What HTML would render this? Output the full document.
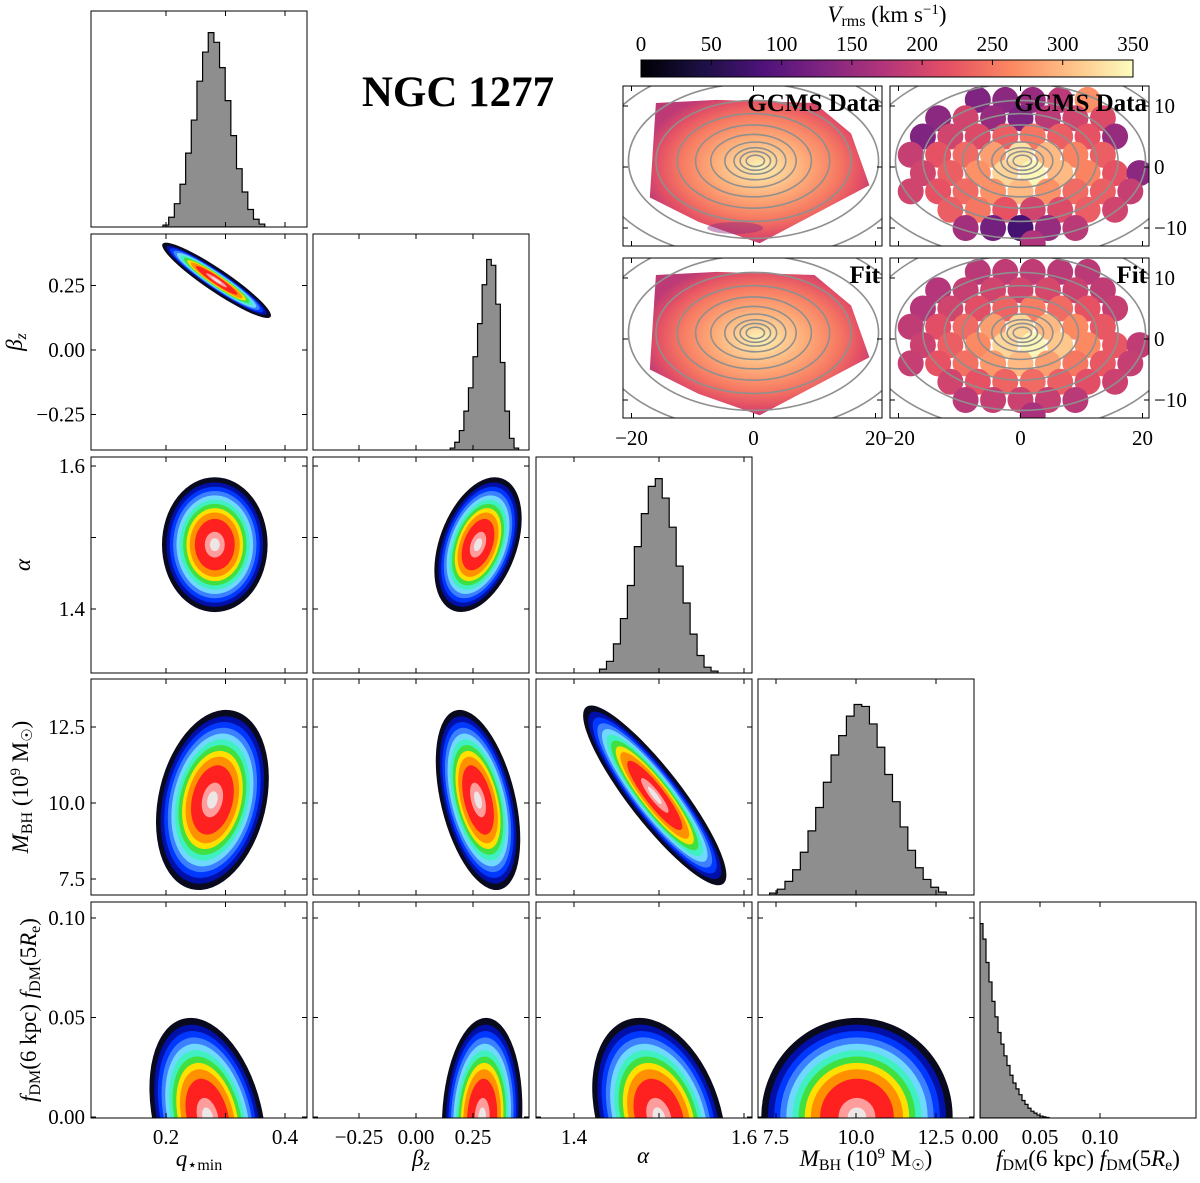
<!DOCTYPE html>
<html><head><meta charset="utf-8">
<style>
html,body{margin:0;padding:0;background:#fff;}
svg{display:block;font-family:"Liberation Serif",serif;}
text{font-family:"Liberation Serif",serif;}
</style></head>
<body>
<svg id="fig" width="1200" height="1183" viewBox="0 0 1200 1183" xmlns="http://www.w3.org/2000/svg">
<defs id="defs"></defs>
<g id="root"></g>
</svg>
<script>
// ---------- DATA ----------
const histQ = [0.01,0.05,0.12,0.22,0.38,0.55,0.75,0.9,1.0,0.95,0.82,0.65,0.47,0.3,0.18,0.09,0.04,0.015];
const histQStart = 0.195, histQStep = 0.0095;
const histB = [0.01,0.04,0.1,0.2,0.32,0.48,0.65,0.85,0.98,0.95,0.75,0.45,0.2,0.06,0.01];
const histBStart = 0.15, histBStep = 0.02;
const histA = [0.02,0.06,0.15,0.28,0.45,0.65,0.82,0.96,1.0,0.9,0.75,0.55,0.36,0.2,0.09,0.03,0.01];
const histAStart = 1.43, histAStep = 0.0082;
const histM = [0.01,0.03,0.07,0.13,0.22,0.33,0.45,0.58,0.72,0.82,0.92,0.98,0.97,0.88,0.76,0.62,0.48,0.35,0.23,0.14,0.08,0.04,0.015];
const histMStart = 7.3, histMStep = 0.24;
const histF = [1.0,0.92,0.8,0.7,0.6,0.52,0.44,0.38,0.32,0.27,0.22,0.18,0.15,0.12,0.09,0.07,0.05,0.035,0.025,0.015,0.01,0.006,0.003];
const histFStart = 0, histFStep = 0.0025;

// scatter clouds
const cloudVarX = ['q','q','b','q','b','a','q','b','a','m'];
const cloudVarY = ['b','a','a','m','m','m','f','f','f','f'];
const cloudMeanX = [0.285,0.282,0.272,0.278,0.272,1.495,0.27,0.29,1.5,10.03];
const cloudMeanY = [0.27,1.49,1.49,10.1,10.1,10.25,0,0,0,0];
const cloudSdX = [0.029,0.028,0.06,0.03,0.058,0.027,0.031,0.055,0.025,0.96];
const cloudSdY = [0.046,0.03,0.03,0.95,0.95,0.95,0.016,0.016,0.016,0.016];
const cloudRho = [-0.95,0.0,0.4,0.25,-0.45,-0.9,-0.3,0.1,-0.3,0.0];

const levelSigma = [3.05,2.9,2.7,2.5,2.3,2.1,1.9,1.7,1.5,1.2,0.6];
const levelColor = ['#0a0a1e','#0010a8','#0038ff','#3c80ff','#70d8ff','#40f0c0','#40e040','#ffe000','#ff9000','#ff2020','#ff9c9c'];
const coreColor = '#ece6e6';

const cbTicks = [0,50,100,150,200,250,300,350];

// Vrms bin maps
const binRowY = [11,8,5,2,-1,-4,-7,-10,-12.5];
const evenX = [-16,-11.5,-7,-2.5,2,6.5,11,15.5,19.5];
const oddX = [-18,-13.5,-9,-4.5,0,4.5,9,13.5,18];
const binValData = [
 [null,null,130,140,150,180,270,null,null],
 [null,140,200,150,130,180,200,210,null],
 [130,200,210,230,250,230,220,150,null],
 [190,220,240,280,330,300,260,230,null],
 [200,230,270,320,345,300,260,220,140],
 [200,220,240,270,300,270,240,230,190],
 [null,230,250,220,200,210,230,200,null],
 [null,null,160,120,80,150,180,null,null],
 [null,null,null,null,170,null,null,null,null]];
const binValFit = [
 [null,null,180,185,185,180,180,null,null],
 [null,175,190,200,200,205,195,185,null],
 [175,200,215,235,255,240,220,190,null],
 [185,215,240,280,320,300,265,225,null],
 [195,230,265,320,345,310,265,225,185],
 [190,220,245,275,300,280,250,225,190],
 [null,200,220,235,240,230,215,195,null],
 [null,null,180,190,195,190,180,null,null],
 [null,null,null,null,165,null,null,null,null]];
</script>
<script>
const NS='http://www.w3.org/2000/svg';
const root=document.getElementById('root');
const defs=document.getElementById('defs');
const FS=21;
function mk(tag,attrs,parent){const e=document.createElementNS(NS,tag);for(const k in attrs)e.setAttribute(k,attrs[k]);(parent||root).appendChild(e);return e;}
function txt(s,x,y,size,anchor,parent,extra){const e=mk('text',Object.assign({x:x,y:y,'font-size':size,'text-anchor':anchor||'middle',fill:'#000'},extra||{}),parent);e.textContent=s;return e;}

const X={q:v=>166+(v-0.2)*595,b:v=>416+v*228,a:v=>574+(v-1.4)*850,m:v=>776+(v-7.5)*32,f:v=>980+v*1200};
const Y={b:v=>350-v*258,a:v=>609-(v-1.4)*715,m:v=>803-(v-10)*30.4,f:v=>1117-v*1990};
const cols=[91,313,536,758,980], rows=[11,234,457,679,902], PW=216, PH=216;
const vars=['q','b','a','m','f'];
const xTicks={q:[0.2,0.3,0.4],b:[-0.25,0,0.25],a:[1.4,1.5,1.6],m:[7.5,10,12.5],f:[0,0.05,0.1]};
const xLab={q:['0.2','','0.4'],b:['−0.25','0.00','0.25'],a:['1.4','','1.6'],m:['7.5','10.0','12.5'],f:['0.00','0.05','0.10']};
const yTicks={b:[-0.25,0,0.25],a:[1.4,1.5,1.6],m:[7.5,10,12.5],f:[0,0.05,0.1]};
const yLab={b:['−0.25','0.00','0.25'],a:['1.4','','1.6'],m:['7.5','10.0','12.5'],f:['0.00','0.05','0.10']};

function panelFrame(ci,ri,name){
  const x0=cols[ci],y0=rows[ri];
  const g=mk('g',{});
  
  
  const cp=mk('clipPath',{id:'cp'+ci+'_'+ri},defs);
  mk('rect',{x:x0,y:y0,width:PW,height:PH},cp);
  const inner=mk('g',{'clip-path':'url(#cp'+ci+'_'+ri+')'},g);
  return {g,inner,x0,y0};
}
function panelAxes(p,ci,ri,diag){
  const {g,x0,y0}=p;
  mk('rect',{x:x0,y:y0,width:PW,height:PH,fill:'none',stroke:'#000','stroke-width':1},g);
  const vx=vars[ci];
  xTicks[vx].forEach((t,i)=>{const px=X[vx](t);
    mk('line',{x1:px,x2:px,y1:y0+PH,y2:y0+PH-5,stroke:'#000'},g);
    mk('line',{x1:px,x2:px,y1:y0,y2:y0+5,stroke:'#000'},g);
    if(ri===4&&xLab[vx][i]){const t2=txt(xLab[vx][i],px,y0+PH+26,FS,'middle',g);}
  });
  if(!diag){const vy=vars[ri];
    yTicks[vy].forEach((t,i)=>{const py=Y[vy](t);
      mk('line',{x1:x0,x2:x0+5,y1:py,y2:py,stroke:'#000'},g);
      mk('line',{x1:x0+PW,x2:x0+PW-5,y1:py,y2:py,stroke:'#000'},g);
      if(ci===0&&yLab[vy][i]){const t2=txt(yLab[vy][i],x0-6,py+7,FS,'end',g);}
    });
  }
}

// ---------- histograms ----------
const hists=[[histQ,histQStart,histQStep],[histB,histBStart,histBStep],[histA,histAStart,histAStep],[histM,histMStart,histMStep],[histF,histFStart,histFStep]];
hists.forEach((h,i)=>{
  const p=panelFrame(i,i,'histogram-'+vars[i]);
  const [vals,start,step]=h; const base=rows[i]+PH; const sc=0.9*PH;
  let d='M'+X[vars[i]](start)+','+base;
  vals.forEach((v,k)=>{const xa=X[vars[i]](start+k*step),xb=X[vars[i]](start+(k+1)*step),yy=base-v*sc;d+=' L'+xa+','+yy+' L'+xb+','+yy;});
  d+=' L'+X[vars[i]](start+vals.length*step)+','+base+' Z';
  const path=mk('path',{d:d,fill:'#8e8e8e',stroke:'#000','stroke-width':1.2},p.inner);
  
  
  panelAxes(p,i,i,true);
});

// ---------- scatter clouds ----------
cloudVarX.forEach((vx,i)=>{
  const vy=cloudVarY[i]; const ci=vars.indexOf(vx), ri=vars.indexOf(vy);
  const p=panelFrame(ci,ri,'scatter-'+vx+'-'+vy);
  const kx=X[vx](1)-X[vx](0), ky=Y[vy](1)-Y[vy](0);
  const a=Math.pow(cloudSdX[i]*kx,2), c=Math.pow(cloudSdY[i]*ky,2), b=cloudRho[i]*cloudSdX[i]*cloudSdY[i]*kx*ky;
  const m=(a+c)/2, r=Math.sqrt(Math.pow((a-c)/2,2)+b*b);
  const l1=m+r, l2=Math.max(m-r,0.5);
  const ang=0.5*Math.atan2(2*b,a-c)*180/Math.PI;
  const cx=X[vx](cloudMeanX[i]), cy=Y[vy](cloudMeanY[i]);
  const g=mk('g',{transform:'translate('+cx+','+cy+') rotate('+ang+')'},p.inner);
  
  
  levelSigma.forEach((k,j)=>{
    mk('ellipse',{cx:0,cy:0,rx:k*Math.sqrt(l1)+(j===0?2:0),ry:k*Math.sqrt(l2)+(j===0?2:0),fill:levelColor[j]},g);
  });
  mk('ellipse',{cx:0,cy:0,rx:0.3*Math.sqrt(l1),ry:0.3*Math.sqrt(l2),fill:coreColor},g);
  panelAxes(p,ci,ri,false);
});

// ---------- axis labels ----------
function lab(html,x,y,rot,name){
  const t=mk('text',{x:x,y:y,'font-size':23,'text-anchor':'middle',fill:'#000',transform:rot?'rotate(-90 '+x+' '+y+')':''});
  t.innerHTML=html;
  
  
}
lab('<tspan font-style="italic">q</tspan><tspan font-size="16" dy="4">⋆min</tspan>',199,1166,false,'x-axis-title-q');
lab('<tspan font-style="italic">β</tspan><tspan font-size="16" font-style="italic" dy="4">z</tspan>',421,1166,false,'x-axis-title-beta');
lab('<tspan font-style="italic">α</tspan>',643,1163,false,'x-axis-title-alpha');
lab('<tspan font-style="italic">M</tspan><tspan font-size="16" dy="4">BH</tspan><tspan dy="-4"> (10</tspan><tspan font-size="15" dy="-8">9</tspan><tspan dy="8"> M</tspan><tspan font-size="15" dy="4">☉</tspan><tspan dy="-4">)</tspan>',866,1166,false,'x-axis-title-mbh');
lab('<tspan font-style="italic">f</tspan><tspan font-size="16" dy="4">DM</tspan><tspan dy="-4">(6 kpc)  </tspan><tspan font-style="italic">f</tspan><tspan font-size="16" dy="4">DM</tspan><tspan dy="-4">(5</tspan><tspan font-style="italic">R</tspan><tspan font-size="16" dy="4">e</tspan><tspan dy="-4">)</tspan>',1088,1166,false,'x-axis-title-fdm');
lab('<tspan font-style="italic">β</tspan><tspan font-size="16" font-style="italic" dy="4">z</tspan>',22,342,true,'y-axis-title-beta');
lab('<tspan font-style="italic">α</tspan>',30,565,true,'y-axis-title-alpha');
lab('<tspan font-style="italic">M</tspan><tspan font-size="16" dy="4">BH</tspan><tspan dy="-4"> (10</tspan><tspan font-size="15" dy="-8">9</tspan><tspan dy="8"> M</tspan><tspan font-size="15" dy="4">☉</tspan><tspan dy="-4">)</tspan>',28,787,true,'y-axis-title-mbh');
lab('<tspan font-style="italic">f</tspan><tspan font-size="16" dy="4">DM</tspan><tspan dy="-4">(6 kpc)  </tspan><tspan font-style="italic">f</tspan><tspan font-size="16" dy="4">DM</tspan><tspan dy="-4">(5</tspan><tspan font-style="italic">R</tspan><tspan font-size="16" dy="4">e</tspan><tspan dy="-4">)</tspan>',36,1010,true,'y-axis-title-fdm');

const title=txt('NGC 1277',458,106,43,'middle',root,{'font-weight':'bold'});



// ---------- colorbar ----------
const magma=[[0,'#000004'],[0.125,'#1c1044'],[0.25,'#4f127b'],[0.375,'#812581'],[0.5,'#b5367a'],[0.625,'#e55064'],[0.75,'#fb8761'],[0.875,'#fec287'],[1,'#fcfdbf']];
function hex(h){return [parseInt(h.substr(1,2),16),parseInt(h.substr(3,2),16),parseInt(h.substr(5,2),16)];}
function cmap(t){t=Math.max(0,Math.min(1,t));for(let i=1;i<magma.length;i++){if(t<=magma[i][0]){const a=hex(magma[i-1][1]),b=hex(magma[i][1]),f=(t-magma[i-1][0])/(magma[i][0]-magma[i-1][0]);return 'rgb('+a.map((v,k)=>Math.round(v+(b[k]-v)*f)).join(',')+')';}}return magma[8][1];}
const lg=mk('linearGradient',{id:'cbg',x1:0,x2:1,y1:0,y2:0},defs);
magma.forEach(s=>mk('stop',{offset:s[0],'stop-color':s[1]},lg));
const cbX=(v)=>641+v/350*492;
const cb=mk('rect',{x:641,y:60,width:492,height:17,fill:'url(#cbg)',stroke:'#000','stroke-width':1});


cbTicks.forEach(v=>{mk('line',{x1:cbX(v),x2:cbX(v),y1:60,y2:65,stroke:'#000'});
  const t=txt(String(v),cbX(v),51,FS,'middle');
  
  });
const cbl=mk('text',{x:887,y:22,'font-size':23,'text-anchor':'middle'});
cbl.innerHTML='<tspan font-style="italic">V</tspan><tspan font-size="16" dy="4">rms</tspan><tspan dy="-4"> (km s</tspan><tspan font-size="15" dy="-8">−1</tspan><tspan dy="8">)</tspan>';



// ---------- maps ----------
const mapBoxes=[[623,86],[890,86],[623,258],[890,258]];
const MW=259,MH=160,SC=6.1;
const rg=mk('radialGradient',{id:'mapg',cx:0.5,cy:0.47,r:0.55},defs);
[[0,0.98],[0.15,0.92],[0.4,0.82],[0.65,0.72],[0.85,0.62],[1,0.52]].forEach(s=>mk('stop',{offset:s[0],'stop-color':cmap(s[1])},rg));
const poly=[[-16,10.5],[-6,11],[10,10.5],[16,5.5],[19,-3],[1,-12.5],[-9,-9],[-17,-5]];
mapBoxes.forEach((b,mi)=>{
  const [bx,by]=b; const cx0=bx+MW/2+1, cy0=by+MH/2+1;
  const mx=v=>cx0+v*SC, my=v=>cy0-v*SC;
  const g=mk('g',{});
  
  
  const cp=mk('clipPath',{id:'mcp'+mi},defs);
  mk('rect',{x:bx,y:by,width:MW,height:MH},cp);
  const inner=mk('g',{'clip-path':'url(#mcp'+mi+')'},g);
  if(mi%2===0){
    mk('polygon',{points:poly.map(p=>mx(p[0])+','+my(p[1])).join(' '),fill:'url(#mapg)'},inner);
    if(mi===0){mk('ellipse',{cx:mx(-3),cy:my(-10),rx:28,ry:6,fill:cmap(0.4),opacity:0.45},inner);}
  } else {
    const vals=mi===1?binValData:binValFit;
    binRowY.forEach((yy,r)=>{const xs=(r%2===0)?evenX:oddX;
      vals[r].forEach((v,k)=>{ if(v===null) return;
        mk('circle',{cx:mx(xs[k]),cy:my(yy),r:13,fill:cmap(v/350)},inner);});});
  }
  [1.5,2.5,3.5,5,7,9.5,12.5,16,20.5,26].forEach((rx,k)=>{
    mk('ellipse',{cx:mx(k<4?0.3:0),cy:my(1),rx:rx*SC,ry:rx*SC*0.62,fill:'none',stroke:'#8f8f8f','stroke-width':1.6},inner);
  });
  mk('rect',{x:bx,y:by,width:MW,height:MH,fill:'none',stroke:'#000','stroke-width':1},g);
  [-20,0,20].forEach(v=>{mk('line',{x1:mx(v),x2:mx(v),y1:by+MH,y2:by+MH-5,stroke:'#000'},g);mk('line',{x1:mx(v),x2:mx(v),y1:by,y2:by+5,stroke:'#000'},g);});
  [-10,0,10].forEach(v=>{mk('line',{x1:bx,x2:bx+5,y1:my(v),y2:my(v),stroke:'#000'},g);mk('line',{x1:bx+MW,x2:bx+MW-5,y1:my(v),y2:my(v),stroke:'#000'},g);});
  if(mi%2===1){[-10,0,10].forEach(v=>{const t=txt(v<0?'−10':String(v),bx+MW+5,my(v)+7,FS,'start',g);});}
  if(mi>=2){[-20,0,20].forEach(v=>{const t=txt(v<0?'−20':String(v),mx(v),by+MH+27,FS,'middle',g);});}
  const lbl=txt(mi<2?'GCMS Data':'Fit',bx+MW-2,by+25,25,'end',g,{'font-weight':'bold'});
  
  
});
</script>
</body></html>
